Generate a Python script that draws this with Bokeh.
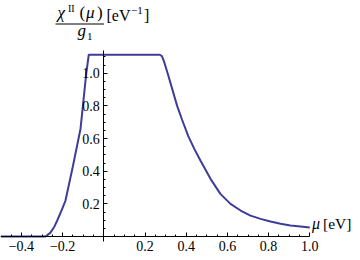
from bokeh.plotting import figure
from bokeh.models import Range1d, FixedTicker, CustomJSTickFormatter, Label
from bokeh.embed import file_html
from bokeh.resources import INLINE

# Curve chi^II(mu)/g1
mu = [-0.5, -0.283, -0.26, -0.24, -0.226, -0.202, -0.186, -0.15, -0.113, -0.085,
      -0.073, 0.272, 0.282, 0.291, 0.311, 0.356, 0.38, 0.41, 0.44, 0.469, 0.518,
      0.566, 0.615, 0.664, 0.712, 0.761, 0.809, 0.858, 0.906, 0.955, 1.0]
chi = [0.0, 0.0, 0.022, 0.06, 0.098, 0.169, 0.22, 0.43, 0.66, 1.0,
       1.113, 1.113, 1.105, 1.077, 0.995, 0.80, 0.715, 0.615, 0.535, 0.465, 0.353,
       0.261, 0.200, 0.159, 0.128, 0.108, 0.092, 0.078, 0.067, 0.061, 0.055]

x_major_ticks = [-0.4, -0.2, 0.2, 0.4, 0.6, 0.8, 1.0]
x_minor_ticks = [-0.45, -0.35, -0.3, -0.25, -0.15, -0.1, -0.05, 0.05, 0.1, 0.15,
                 0.25, 0.3, 0.35, 0.45, 0.5, 0.55, 0.65, 0.7, 0.75, 0.85, 0.9, 0.95]
y_major_ticks = [0.2, 0.4, 0.6, 0.8, 1.0]
y_minor_ticks = [0.05, 0.1, 0.15, 0.25, 0.3, 0.35, 0.45, 0.5, 0.55, 0.65, 0.7,
                 0.75, 0.85, 0.9, 0.95, 1.05, 1.1]
x_axis_bounds = (-0.5, 1.0)
y_axis_bounds = (-0.03, 1.14)

W, H = 352, 252
SERIF = "Liberation Serif"
X0, SX = 103.3, 206.0   # pixel of mu=0, pixels per eV
Y0, SY = 236.0, 163.3   # pixel of chi=0, pixels per unit

p = figure(width=W, height=H, output_backend="svg", toolbar_location=None,
           x_range=Range1d(-X0 / SX, (W - X0) / SX),
           y_range=Range1d(-(H - Y0) / SY, Y0 / SY),
           min_border=0, min_border_left=0, min_border_right=0,
           min_border_top=0, min_border_bottom=0)
p.title.visible = False
p.outline_line_color = None
p.xgrid.visible = False
p.ygrid.visible = False
p.background_fill_color = "white"
p.border_fill_color = "white"

fmt = CustomJSTickFormatter(code="return tick.toFixed(1).replace('-', '\u2212');")

for ax, maj, mnr, bnd in ((p.xaxis, x_major_ticks, x_minor_ticks, x_axis_bounds),
                          (p.yaxis, y_major_ticks, y_minor_ticks, y_axis_bounds)):
    ax.fixed_location = 0
    ax.bounds = bnd
    ax.ticker = FixedTicker(ticks=maj, minor_ticks=mnr)
    ax.formatter = fmt
    ax.axis_line_color = "black"
    ax.axis_line_width = 1
    ax.major_tick_line_color = "black"
    ax.minor_tick_line_color = "black"
    ax.major_tick_in = 4
    ax.major_tick_out = 0
    ax.minor_tick_in = 2
    ax.minor_tick_out = 0
    ax.major_label_text_font = SERIF
    ax.major_label_text_font_size = "14px"
    ax.major_label_text_color = "black"

p.xaxis.major_label_standoff = 4
p.yaxis.major_label_standoff = 4

p.line(mu, chi, line_color="#3d3d99", line_width=2)


def lab(px, py, text, size, italic=False):
    # py is the wanted baseline (pixels from top); place the text box centre
    cy = py - 0.3375 * size
    return Label(x=px, y=H - cy, x_units="screen", y_units="screen",
                 text=text, text_font=SERIF, text_font_size=f"{size}px",
                 text_font_style="italic" if italic else "normal",
                 text_baseline="middle", text_align="left",
                 text_color="black")


def to_data(px, py):
    return (px - X0) / SX, (Y0 - py) / SY


# y-axis title: chi^II(mu) / g_1 [eV^-1]
p.add_layout(lab(57, 17.5, "χ", 17, True))
p.add_layout(lab(67.5, 11.5, "II", 10))
p.add_layout(lab(79, 18, "(", 17))
p.add_layout(lab(85.5, 18, "μ", 17, True))
p.add_layout(lab(96.5, 18, ")", 17))
bx0, by0 = to_data(55, 23.5)
bx1, by1 = to_data(103.5, 23.5)
p.segment(x0=[bx0], y0=[by0], x1=[bx1], y1=[by1], line_color="black", line_width=1)
p.add_layout(lab(77, 35.5, "g", 17, True))
p.add_layout(lab(86.5, 39.5, "1", 11))
p.add_layout(lab(106, 20.5, "[eV", 16))
p.add_layout(lab(130.5, 14, "\u22121", 11))
p.add_layout(lab(143.5, 20.5, "]", 16))

# x-axis title: mu [eV]
p.add_layout(lab(311.5, 228, "μ", 16, True))
p.add_layout(lab(322.5, 228, "[eV]", 15.5))

open("out.html", "w").write(file_html(p, INLINE))
